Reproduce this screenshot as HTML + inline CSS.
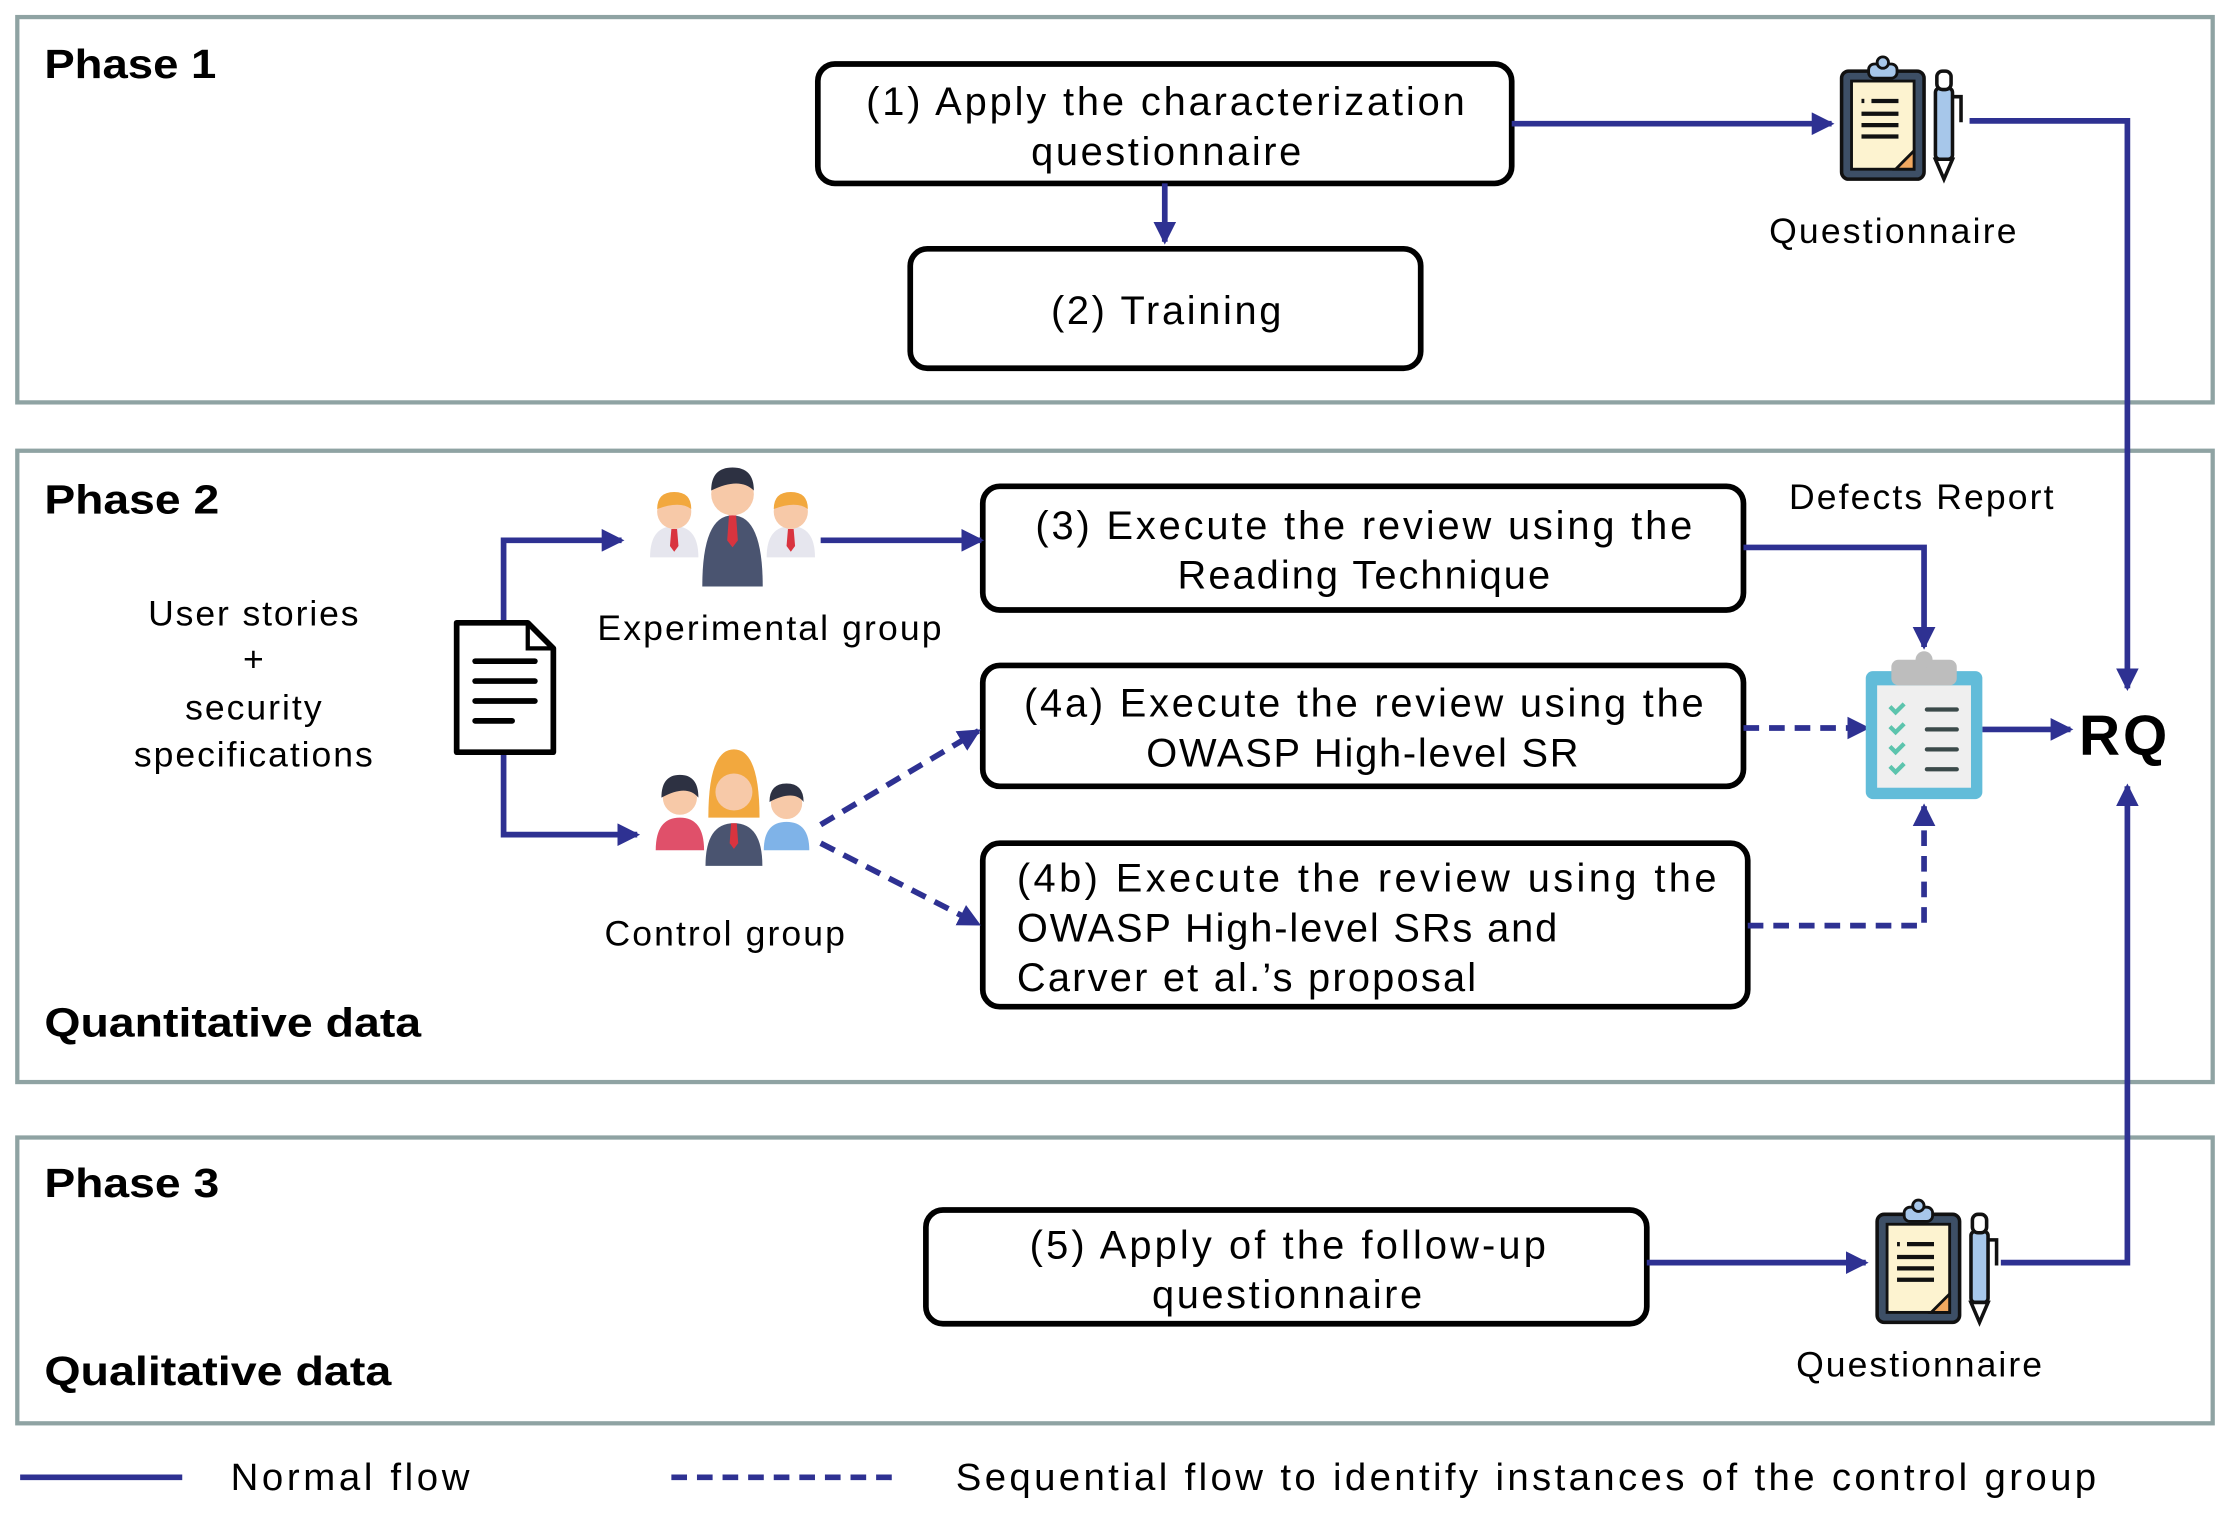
<!DOCTYPE html>
<html><head><meta charset="utf-8"><style>
html,body{margin:0;padding:0;background:#fff}
svg{display:block}
text{font-family:"Liberation Sans","DejaVu Sans",sans-serif;fill:#000}
.ph{font-size:29px;font-weight:bold}
.bx{font-size:28px}
.lb{font-size:25px}
</style></head><body>
<svg width="2230" height="1520" viewBox="0 0 1568 1069" xmlns="http://www.w3.org/2000/svg">
<defs>
<marker id="ar2" markerWidth="16" markerHeight="16" refX="14" refY="8" orient="auto" markerUnits="userSpaceOnUse" viewBox="0 0 16 16">
<path d="M0,0 L16,8 L0,16 z" fill="#2e3192"/></marker>
<g id="quest">
<rect x="2" y="8" width="58" height="76" rx="5" fill="#3d4f66" stroke="#111" stroke-width="2.5"/>
<rect x="9" y="15" width="44" height="62" fill="#fdf3d0" stroke="#111" stroke-width="2"/>
<rect x="21" y="3" width="20" height="10" rx="4" fill="#a7c7ea" stroke="#111" stroke-width="2"/>
<circle cx="31" cy="2" r="4" fill="#a7c7ea" stroke="#111" stroke-width="2"/>
<line x1="16" y1="29" x2="18" y2="29" stroke="#111" stroke-width="3"/>
<line x1="23" y1="29" x2="42" y2="29" stroke="#111" stroke-width="3"/>
<line x1="16" y1="38" x2="42" y2="38" stroke="#111" stroke-width="3"/>
<line x1="16" y1="46" x2="42" y2="46" stroke="#111" stroke-width="3"/>
<line x1="16" y1="54" x2="42" y2="54" stroke="#111" stroke-width="3"/>
<path d="M40,77 L53,64 L53,77 z" fill="#f0a860" stroke="#111" stroke-width="2"/>
<rect x="68" y="20" width="12" height="50" rx="3" fill="#a7c7ea" stroke="#111" stroke-width="2.5"/>
<rect x="69" y="8" width="10" height="13" rx="4" fill="#fff" stroke="#111" stroke-width="2.5"/>
<path d="M68,70 L74,84 L80,70 z" fill="#fff" stroke="#111" stroke-width="2.5"/>
<path d="M80,26 L86,26 L86,44" fill="none" stroke="#111" stroke-width="2.5"/>
</g>
<g id="person">
<path d="M-17,42 Q-17,20 0,20 Q17,20 17,42 z" fill="#e6e6ee"/>
<circle cx="0" cy="10" r="12" fill="#f7c9a8"/>
<path d="M-12,8 Q-12,-4 0,-4 Q12,-4 12,8 Q4,2 -12,8z" fill="#f2a83e"/>
<path d="M-2,22 L2,22 L3,34 L0,38 L-3,34z" fill="#d9343f"/>
</g>
</defs>

<g fill="none" stroke="#8fa3a3" stroke-width="3">
<rect x="12" y="12" width="1544" height="271"/>
<rect x="12" y="317" width="1544" height="444"/>
<rect x="12" y="800" width="1544" height="201"/>
</g>
<text class="ph" x="31" y="55" textLength="121" lengthAdjust="spacingAndGlyphs">Phase 1</text>
<text class="ph" x="31" y="361" textLength="123" lengthAdjust="spacingAndGlyphs">Phase 2</text>
<text class="ph" x="31" y="729" textLength="265" lengthAdjust="spacingAndGlyphs">Quantitative data</text>
<text class="ph" x="31" y="842" textLength="123" lengthAdjust="spacingAndGlyphs">Phase 3</text>
<text class="ph" x="31" y="974" textLength="244" lengthAdjust="spacingAndGlyphs">Qualitative data</text>

<g fill="#fff" stroke="#000" stroke-width="4">
<rect x="575" y="45" width="488" height="84" rx="12"/>
<rect x="640" y="175" width="359" height="84" rx="12"/>
<rect x="691" y="342" width="535" height="87" rx="12"/>
<rect x="691" y="468" width="535" height="85" rx="12"/>
<rect x="691" y="593" width="538" height="115" rx="12"/>
<rect x="651" y="851" width="507" height="80" rx="12"/>
</g>
<text class="bx" x="609" y="81" textLength="421">(1) Apply the characterization</text>
<text class="bx" x="725" y="116" textLength="190">questionnaire</text>
<text class="bx" x="739" y="228" textLength="162">(2) Training</text>
<text class="bx" x="728" y="379" textLength="462">(3) Execute the review using the</text>
<text class="bx" x="828" y="414" textLength="262">Reading Technique</text>
<text class="bx" x="720" y="504" textLength="478">(4a) Execute the review using the</text>
<text class="bx" x="806" y="539" textLength="304">OWASP High-level SR</text>
<text class="bx" x="715" y="627" textLength="492">(4b) Execute the review using the</text>
<text class="bx" x="715" y="662" textLength="380">OWASP High-level SRs and</text>
<text class="bx" x="715" y="697" textLength="323">Carver et al.’s proposal</text>
<text class="bx" x="724" y="885" textLength="363">(5) Apply of the follow-up</text>
<text class="bx" x="810" y="920" textLength="190">questionnaire</text>

<g stroke="#2e3192" stroke-width="4" fill="none">
<line x1="819" y1="129" x2="819" y2="170" marker-end="url(#ar2)"/>
<line x1="1063" y1="87" x2="1288" y2="87" marker-end="url(#ar2)"/>
<polyline points="1385,85 1496,85 1496,484" marker-end="url(#ar2)"/>
<polyline points="354,437 354,380 437,380" marker-end="url(#ar2)"/>
<polyline points="354,530 354,587 448,587" marker-end="url(#ar2)"/>
<line x1="577" y1="380" x2="690" y2="380" marker-end="url(#ar2)"/>
<polyline points="1226,385 1353,385 1353,455" marker-end="url(#ar2)"/>
<line x1="1394" y1="513" x2="1456" y2="513" marker-end="url(#ar2)"/>
<line x1="1158" y1="888" x2="1312" y2="888" marker-end="url(#ar2)"/>
<polyline points="1407,888 1496,888 1496,553" marker-end="url(#ar2)"/>
<line x1="14" y1="1039" x2="128" y2="1039"/>
</g>
<g stroke="#2e3192" stroke-width="4" fill="none" stroke-dasharray="11,7">
<line x1="577" y1="580" x2="688" y2="514" marker-end="url(#ar2)"/>
<line x1="577" y1="593" x2="688" y2="650" marker-end="url(#ar2)"/>
<line x1="1226" y1="512" x2="1313" y2="512" marker-end="url(#ar2)"/>
<polyline points="1229,651 1353,651 1353,567" marker-end="url(#ar2)"/>
<line x1="472" y1="1039" x2="627" y2="1039"/>
</g>

<use href="#quest" x="1293" y="42"/>
<use href="#quest" x="1318" y="846"/>
<text class="lb" x="1244" y="171" textLength="174">Questionnaire</text>
<text class="lb" x="1263" y="968" textLength="173">Questionnaire</text>
<text class="lb" x="1258" y="358" textLength="186">Defects Report</text>

<rect x="1312" y="472" width="82" height="90" rx="5" fill="#62bcd9"/>
<rect x="1320" y="482" width="66" height="72" fill="#efefef"/>
<rect x="1330" y="464" width="46" height="18" rx="5" fill="#bdbdbd"/>
<circle cx="1353" cy="464" r="6" fill="#bdbdbd"/>
<g stroke="#5cc4ad" stroke-width="3" fill="none">
<path d="M1329,497 l4,4 l6,-6"/><path d="M1329,511 l4,4 l6,-6"/><path d="M1329,525 l4,4 l6,-6"/><path d="M1329,539 l4,4 l6,-6"/>
</g>
<g stroke="#3b4a4a" stroke-width="3" stroke-linecap="round">
<line x1="1355" y1="499" x2="1376" y2="499"/><line x1="1355" y1="513" x2="1376" y2="513"/><line x1="1355" y1="527" x2="1376" y2="527"/><line x1="1355" y1="541" x2="1376" y2="541"/>
</g>
<text x="1462" y="531" font-size="40" font-weight="bold" textLength="62">RQ</text>

<path d="M321,438 L371,438 L389,456 L389,529 L321,529 z" fill="#fff" stroke="#000" stroke-width="4" stroke-linejoin="round"/>
<path d="M371,438 L371,456 L389,456" fill="none" stroke="#000" stroke-width="3"/>
<g stroke="#000" stroke-width="4" stroke-linecap="round">
<line x1="334" y1="465" x2="376" y2="465"/><line x1="334" y1="479" x2="376" y2="479"/><line x1="334" y1="493" x2="376" y2="493"/><line x1="334" y1="507" x2="360" y2="507"/>
</g>
<text class="lb" x="104" y="440" textLength="148">User stories</text>
<text class="lb" x="178" y="472" text-anchor="middle">+</text>
<text class="lb" x="130" y="506" textLength="96">security</text>
<text class="lb" x="94" y="539" textLength="168">specifications</text>

<use href="#person" x="474" y="350"/>
<use href="#person" x="556" y="350"/>
<g transform="translate(515,335) scale(1.25)">
<path d="M-17,62 Q-17,22 0,22 Q17,22 17,62 z" fill="#4a5470"/>
<circle cx="0" cy="10" r="12" fill="#f7c9a8"/>
<path d="M-12,8 Q-12,-5 0,-5 Q12,-5 12,8 Q4,0 -12,8z" fill="#2d3142"/>
<path d="M-2,22 L2,22 L3,36 L0,40 L-3,36z" fill="#d9343f"/>
</g>
<text class="lb" x="420" y="450" textLength="242">Experimental group</text>

<g transform="translate(478,545)">
<path d="M-17,53 Q-17,30 0,30 Q17,30 17,53 z" fill="#e0506a"/>
<circle cx="0" cy="16" r="12" fill="#f7c9a8"/><path d="M-13,16 Q-13,0 0,0 Q13,0 13,16 Q5,6 -13,16z" fill="#2d3142"/>
</g>
<g transform="translate(553,550)">
<path d="M-16,48 Q-16,28 0,28 Q16,28 16,48 z" fill="#7fb3e8"/>
<circle cx="0" cy="15" r="11" fill="#f7c9a8"/><path d="M-12,14 Q-12,1 0,1 Q12,1 12,14 Q5,5 -12,14z" fill="#2d3142"/>
</g>
<g transform="translate(516,545)">
<path d="M-20,64 Q-20,34 0,34 Q20,34 20,64 z" fill="#4a5470"/>
<path d="M-18,30 Q-18,-18 0,-18 Q18,-18 18,30z" fill="#f2a83e"/>
<circle cx="0" cy="12" r="13" fill="#f7c9a8"/>
<path d="M-2,34 L2,34 L3,48 L0,52 L-3,48z" fill="#d9343f"/>
</g>
<text class="lb" x="425" y="665" textLength="169">Control group</text>

<text x="162" y="1048" font-size="27" textLength="168">Normal flow</text>
<text x="672" y="1048" font-size="27" textLength="802">Sequential flow to identify instances of the control group</text>
</svg>
</body></html>
